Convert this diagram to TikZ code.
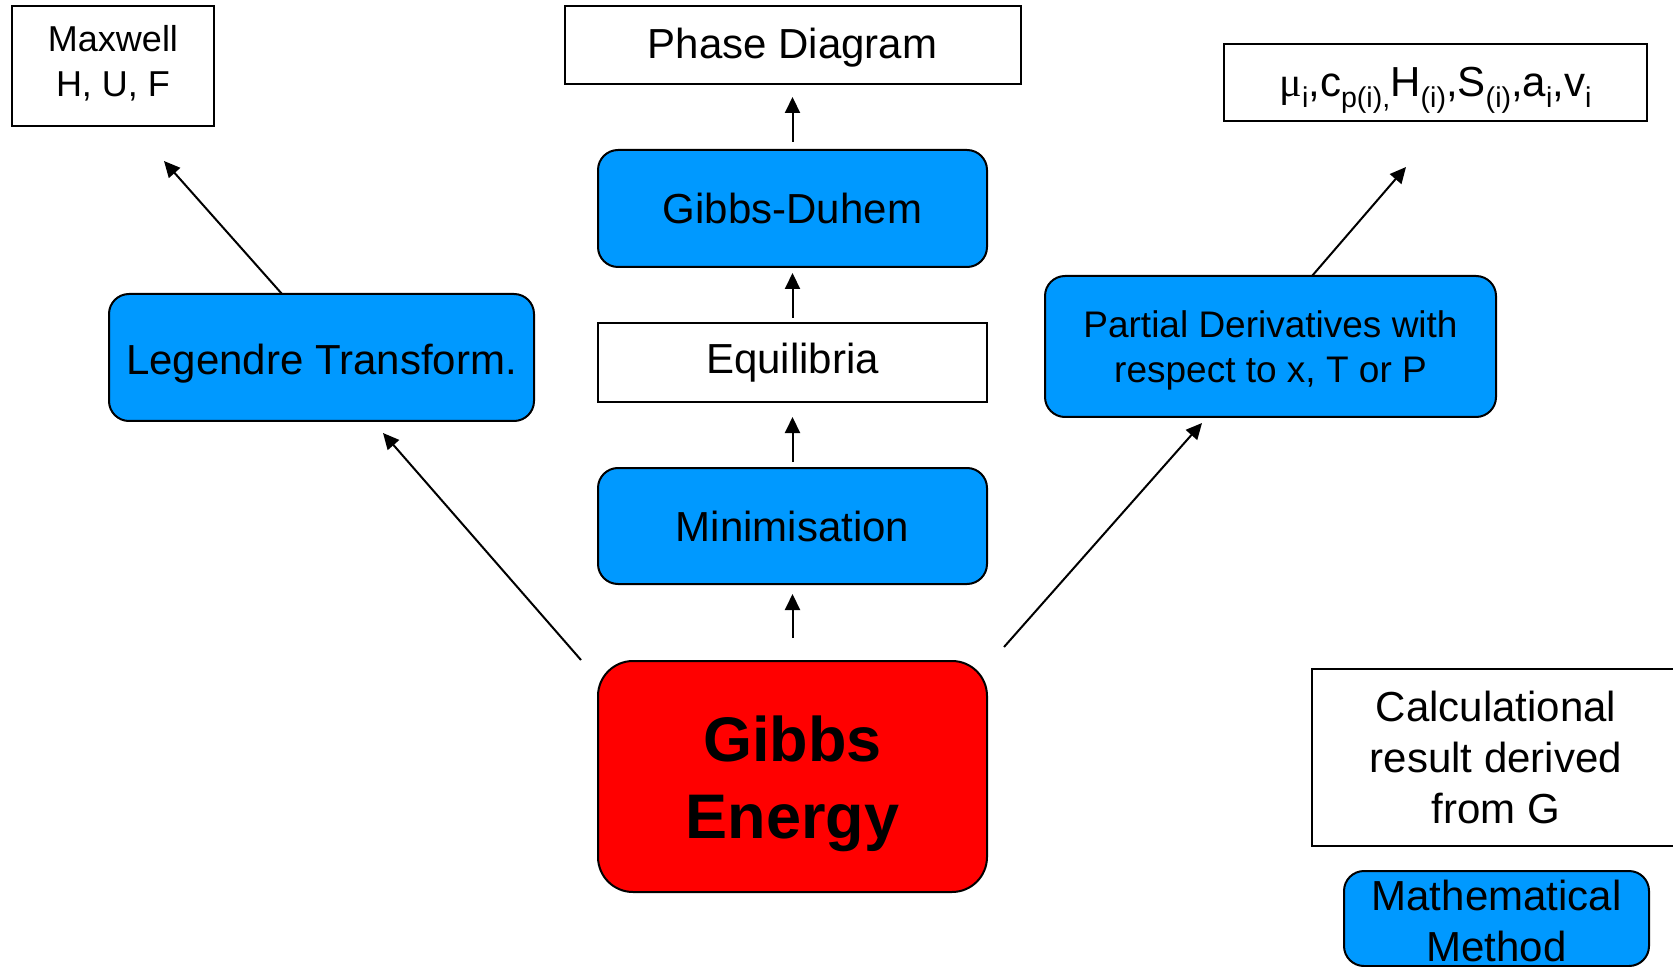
\documentclass[tikz,border=0pt]{standalone}
\usepackage{fontspec}
\setmainfont{Liberation Sans}
\newfontfamily\symf{Liberation Serif}
\usetikzlibrary{arrows.meta,calc}
\definecolor{myblue}{RGB}{0,153,255}
\definecolor{myred}{RGB}{255,0,0}
\newcommand\myTop[1]{\rule{0pt}{#1}}
\newcommand\myBot[1]{\rule[-#1]{0pt}{#1}}
\newcommand\low[1]{\raisebox{-5.3pt}{\fontsize{14.3}{15}\selectfont #1}}
\begin{document}
\begin{tikzpicture}[x=0.5pt,y=-0.5pt,
  basebox/.style={draw=black, line width=1pt, inner sep=0pt, outer sep=0pt, align=center,
    font=\fontsize{21}{25.5}\selectfont},
  whtbox/.style={basebox, fill=white},
  blubox/.style={basebox, fill=myblue, rounded corners=10pt},
  redbox/.style={basebox, fill=myred, rounded corners=17.5pt,
    font=\fontsize{31.5}{38.5}\selectfont\bfseries},
  arr/.style={line width=1pt, -{Triangle[length=8pt,width=7.5pt]}}]
\clip (0,0) rectangle (1673,967);

\node[whtbox, minimum width=101pt, minimum height=60pt, font=\fontsize{18}{22.5}\selectfont]
  (maxwell) at (113,66) {Maxwell\\H, U, F\myBot{4.75pt}};
\node[whtbox, minimum width=228pt, minimum height=39pt, text height=18.4pt, text depth=4.4pt]
  (phase) at (792.5,45) {Phase Diagram};
\node[draw=black, line width=1pt, inner sep=0pt, outer sep=0pt, fill=white,
  minimum width=211.5pt, minimum height=38.5pt, text height=18pt, text depth=3.5pt,
  font=\fontsize{21}{25}\selectfont]
  (mu) at (1435.5,82.5) {{\symf μ}\low{i},c\low{p(i),}H\low{(i)},S\low{(i)},a\low{i},v\low{i}};

\node[blubox, minimum width=194.5pt, minimum height=58.5pt] (gd) at (792.5,208.5) {Gibbs-Duhem};
\node[whtbox, minimum width=194.5pt, minimum height=39.5pt] (eq) at (792.5,362.5) {Equilibria};
\node[blubox, minimum width=194.5pt, minimum height=58pt] (min) at (792.5,526) {Minimisation};
\node[redbox, minimum width=194.5pt, minimum height=115.5pt] (gibbs) at (792.5,776.5)
  {\myTop{30.5pt}Gibbs\\Energy\myBot{6.5pt}};

\node[blubox, minimum width=212.5pt, minimum height=63.5pt, text height=21.75pt, text depth=4.4pt]
  (leg) at (321.5,357.5) {Legendre Transform.};
\node[blubox, minimum width=225.5pt, minimum height=70.5pt, font=\fontsize{18.5}{22.5}\selectfont]
  (part) at (1270.5,346.5) {\myTop{18pt}Partial Derivatives with\\respect to x, T or P\myBot{4pt}};

\node[whtbox, minimum width=184pt, minimum height=88.5pt] (calc) at (1496,757.5)
  {Calculational\\result derived\\from G};
\node[blubox, minimum width=152.5pt, minimum height=47.5pt] (math) at (1496.5,918.5)
  {\myTop{18pt}Mathematical\\Method};

\draw[arr, shorten <=4pt, shorten >=6.5pt] (gd.north) -- (phase.south);
\draw[arr, shorten <=2.5pt, shorten >=3pt] (eq.north) -- (gd.south);
\draw[arr, shorten <=3pt, shorten >=7.5pt] (min.north) -- (eq.south);
\draw[arr, shorten <=11.5pt, shorten >=5pt] (gibbs.north) -- (min.south);

\draw[arr] ($(leg.north)+(-39.5,0)$) -- ($(maxwell.south)+(51,35)$);
\draw[arr] ($(gibbs.north west)+(-17,-1)$) -- ($(leg.south)+(61.5,12)$);
\draw[arr] ($(gibbs.north east)+(17,-14)$) -- ($(part.south)+(-68.5,6)$);
\draw[arr] ($(part.north)+(41.5,0)$) -- ($(mu.south)+(-29.5,46)$);
\end{tikzpicture}
\end{document}
